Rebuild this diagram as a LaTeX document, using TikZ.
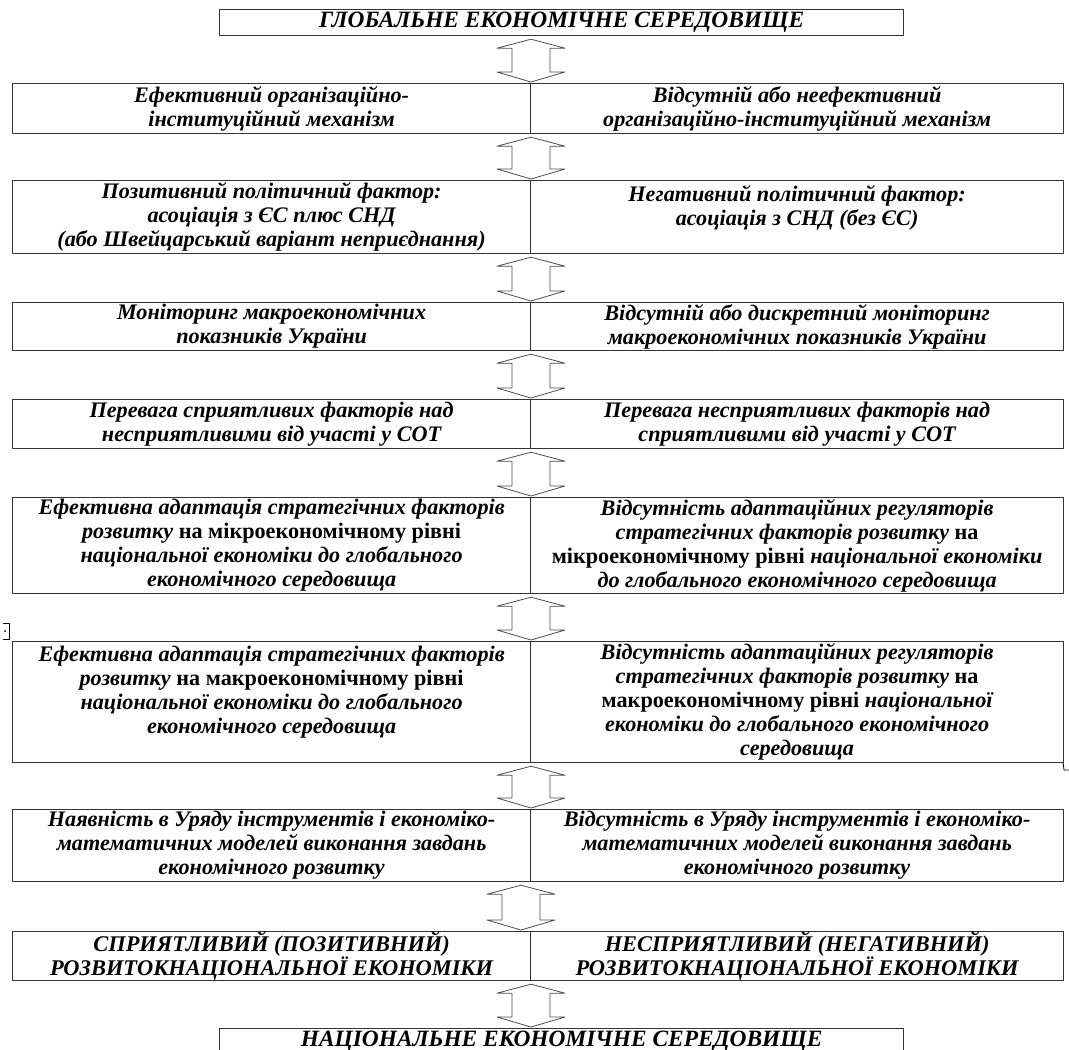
\documentclass[tikz,border=0pt]{standalone}
\usepackage{fontspec}
\setmainfont{Liberation Serif}
\usetikzlibrary{calc}
% block arrow with heads at both ends, between two nodes
\newcommand\twoway[3]{%
  \draw[blk] let \p1=(#1.south -| #3), \p2=(#2.north -| #3) in
    (\x1,\y1-3pt) -- (\x1+34pt,\y1-12pt) -- (\x1+19pt,\y1-12pt) -- (\x1+19pt,\y2+11pt)
    -- (\x1+34pt,\y2+11pt) -- (\x1,\y2+1pt) -- (\x1-34pt,\y2+11pt) -- (\x1-19pt,\y2+11pt)
    -- (\x1-19pt,\y1-12pt) -- (\x1-34pt,\y1-12pt) -- cycle;}
\begin{document}
\begin{tikzpicture}[x=1pt, y=-1pt, line join=round,
  body/.style={font=\fontsize{22.2}{24}\selectfont\bfseries\itshape},
  caps/.style={font=\fontsize{22.4}{22}\selectfont\bfseries\itshape},
  cell/.style={draw=black!80, line width=1.2pt, anchor=north west, align=center, inner sep=0pt, body},
  lcell/.style={cell, minimum width=518pt},
  rcell/.style={cell, minimum width=533pt},
  wide/.style={cell, font=\fontsize{23.4}{24}\selectfont\bfseries\itshape, minimum width=684pt},
  blk/.style={draw=black!70, line width=0.8pt}]
\useasboundingbox (0,0) rectangle (1069,1050);
\clip (0,0) rectangle (1069,1050);
\coordinate (mid) at (531,0);
\coordinate (midb) at (521,0);
% top
\node[wide, minimum height=26pt] (g) at (219,9) {ГЛОБАЛЬНЕ ЕКОНОМІЧНЕ СЕРЕДОВИЩЕ};
% rows
\node[lcell, minimum height=50pt] (l1) at (12,83) {Ефективний організаційно-\\інституційний механізм};
\node[rcell, minimum height=50pt] (r1) at (530,83) {Відсутній або неефективний\\організаційно-інституційний механізм};
\node[lcell, minimum height=73pt] (l2) at (12,180) {Позитивний політичний фактор:\\асоціація з ЄС плюс СНД\\(або Швейцарський варіант неприєднання)};
\node[rcell, minimum height=73pt] (r2) at (530,180) {Негативний політичний фактор:\\асоціація з СНД (без ЄС)\\~};
\node[lcell, minimum height=48pt] (l3) at (12,302) {Моніторинг макроекономічних\\показників України};
\node[rcell, minimum height=48pt] (r3) at (530,302) {Відсутній або дискретний моніторинг\\макроекономічних показників України};
\node[lcell, minimum height=49pt] (l4) at (12,399) {Перевага сприятливих факторів над\\несприятливими від участі у СОТ};
\node[rcell, minimum height=49pt] (r4) at (530,399) {Перевага несприятливих факторів над\\сприятливими від участі у СОТ};
\node[lcell, minimum height=96pt] (l5) at (12,497) {Ефективна адаптація стратегічних факторів\\розвитку {\upshape на мікроекономічному рівні}\\національної економіки до глобального\\економічного середовища};
\node[rcell, minimum height=96pt] (r5) at (530,497) {Відсутність адаптаційних регуляторів\\стратегічних факторів розвитку {\upshape на}\\{\upshape мікроекономічному рівні} національної економіки\\до глобального економічного середовища};
\node[lcell, minimum height=121pt] (l6) at (12,641) {Ефективна адаптація стратегічних факторів\\розвитку {\upshape на макроекономічному рівні}\\національної економіки до глобального\\економічного середовища\\~};
\node[rcell, minimum height=121pt] (r6) at (530,641) {Відсутність адаптаційних регуляторів\\стратегічних факторів розвитку {\upshape на}\\{\upshape макроекономічному рівні} національної\\економіки до глобального економічного\\середовища};
\node[lcell, minimum height=72pt] (l7) at (12,809) {Наявність в Уряду інструментів і економіко-\\математичних моделей виконання завдань\\економічного розвитку};
\node[rcell, minimum height=72pt] (r7) at (530,809) {Відсутність в Уряду інструментів і економіко-\\математичних моделей виконання завдань\\економічного розвитку};
\node[lcell, caps, minimum height=48pt] (l8) at (12,931) {СПРИЯТЛИВИЙ (ПОЗИТИВНИЙ)\\РОЗВИТОКНАЦІОНАЛЬНОЇ ЕКОНОМІКИ};
\node[rcell, caps, minimum height=48pt] (r8) at (530,931) {НЕСПРИЯТЛИВИЙ (НЕГАТИВНИЙ)\\РОЗВИТОКНАЦІОНАЛЬНОЇ ЕКОНОМІКИ};
% bottom
\node[wide, minimum height=30pt, text height=15pt, text depth=10pt] (n) at (219,1028) {НАЦІОНАЛЬНЕ ЕКОНОМІЧНЕ СЕРЕДОВИЩЕ};
% arrows
\foreach \u/\v in {g/l1, l1/l2, l2/l3, l3/l4, l4/l5, l5/l6, l6/l7, l8/n}
  \twoway{\u}{\v}{mid};
\twoway{l7}{l8}{midb};
% marks
\draw[line width=0.8pt] (3,623) -| (9,639) -- (3,639);
\fill (5,631) circle (1pt);
\draw[line width=0.8pt] (1063,762) -- (1064,770) -- (1069,770);
\end{tikzpicture}
\end{document}
